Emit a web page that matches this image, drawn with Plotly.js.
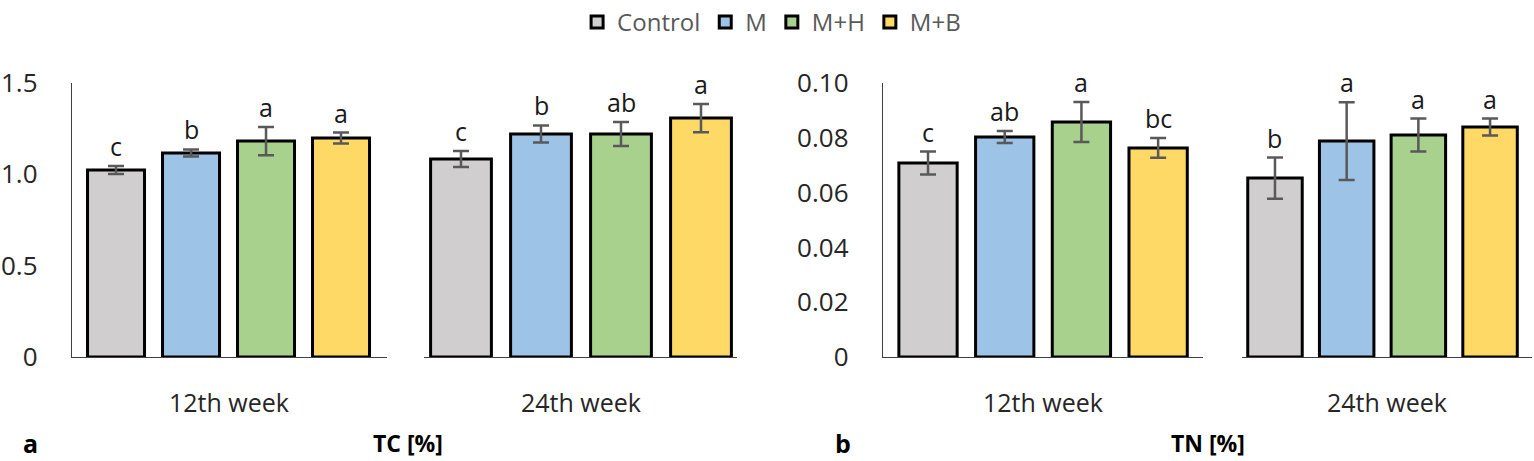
<!DOCTYPE html>
<html>
<head>
<meta charset="utf-8">
<script src="https://cdn.plot.ly/plotly-3.0.1.min.js"></script>
<style>html,body{margin:0;padding:0;background:#fff;}#chart{width:1534px;height:461px;}</style>
</head>
<body>
<div id="chart"></div>
<script>
// ---- data ----
const treatments = ['Control', 'M', 'M+H', 'M+B'];
const weeks = ['12th week', '24th week'];
const panelTitles = ['TC [%]', 'TN [%]'];
const panelLetters = ['a', 'b'];

const tc12 = [1.024, 1.117, 1.182, 1.199];
const tc12Err = [0.022, 0.019, 0.077, 0.030];
const tc12Letters = ['c', 'b', 'a', 'a'];

const tc24 = [1.084, 1.221, 1.221, 1.308];
const tc24Err = [0.044, 0.047, 0.066, 0.077];
const tc24Letters = ['c', 'b', 'ab', 'a'];

const tn12 = [0.0708, 0.0803, 0.0858, 0.0763];
const tn12Err = [0.0042, 0.0022, 0.0073, 0.0036];
const tn12Letters = ['c', 'ab', 'a', 'bc'];

const tn24 = [0.0653, 0.0788, 0.0810, 0.0839];
const tn24Err = [0.0075, 0.0142, 0.0060, 0.0031];
const tn24Letters = ['b', 'a', 'a', 'a'];

const tcTickVals = [0, 0.5, 1.0, 1.5];
const tcTickText = ['0', '0.5', '1.0', '1.5'];
const tnTickVals = [0, 0.02, 0.04, 0.06, 0.08, 0.10];
const tnTickText = ['0', '0.02', '0.04', '0.06', '0.08', '0.10'];

// ---- styles ----
const colors = ['#D0CECE', '#9DC3E6', '#A9D18E', '#FFD966'];
const FONT = 'Open Sans, Noto Sans, sans-serif';

const groups = [
  {vals: tc12, errs: tc12Err, letters: tc12Letters, week: weeks[0], xa: 'x',  ya: 'y'},
  {vals: tc24, errs: tc24Err, letters: tc24Letters, week: weeks[1], xa: 'x2', ya: 'y'},
  {vals: tn12, errs: tn12Err, letters: tn12Letters, week: weeks[0], xa: 'x3', ya: 'y2'},
  {vals: tn24, errs: tn24Err, letters: tn24Letters, week: weeks[1], xa: 'x4', ya: 'y2'}
];

const traces = [];
const annotations = [];
groups.forEach((g, gi) => {
  treatments.forEach((t, ti) => {
    traces.push({
      type: 'bar',
      name: t,
      x: [t],
      y: [g.vals[ti]],
      xaxis: g.xa,
      yaxis: g.ya,
      width: 0.76,
      legendgroup: t,
      showlegend: gi === 0,
      marker: {color: colors[ti], line: {color: '#000000', width: 3}},
      error_y: {type: 'data', array: [g.errs[ti]], visible: true, color: '#595959', thickness: 2.5, width: 8},
      hoverinfo: 'x+y'
    });
    annotations.push({
      x: t, y: g.vals[ti] + g.errs[ti], xref: g.xa, yref: g.ya,
      text: g.letters[ti], showarrow: false, yanchor: 'bottom', xanchor: 'center', yshift: 1,
      font: {family: FONT, size: 25, color: '#1a1a1a'}
    });
  });
  annotations.push({
    x: 0.5, y: 0, xref: g.xa + ' domain', yref: g.ya + ' domain',
    text: g.week, showarrow: false, yanchor: 'middle', xanchor: 'center', yshift: -45,
    font: {family: FONT, size: 25, color: '#262626'}
  });
});

// panel titles and letters
const bottomText = [
  {x: 408, text: '<b>' + panelTitles[0] + '</b>', size: 23},
  {x: 1208, text: '<b>' + panelTitles[1] + '</b>', size: 23},
  {x: 30, text: '<b>' + panelLetters[0] + '</b>', size: 25},
  {x: 843, text: '<b>' + panelLetters[1] + '</b>', size: 25}
];
bottomText.forEach(b => {
  annotations.push({x: b.x / 1534, y: -86 / 274, xref: 'paper', yref: 'paper', text: b.text, showarrow: false,
    xanchor: 'center', yanchor: 'middle', font: {family: FONT, size: b.size, color: '#000'}});
});

const xBase = {
  type: 'category', categoryorder: 'array', categoryarray: treatments,
  showticklabels: false, ticks: '', showgrid: false, zeroline: false,
  showline: true, linecolor: '#404040', linewidth: 1.3, fixedrange: true
};
const yBase = {
  showgrid: false, zeroline: false, ticks: '', showline: true, linecolor: '#404040', linewidth: 1.3,
  tickfont: {family: FONT, size: 26, color: '#262626'}, ticklabelstandoff: 28, domain: [0, 1]
};

const layout = {
  width: 1534, height: 461,
  margin: {l: 0, r: 0, t: 83, b: 104, autoexpand: false},
  paper_bgcolor: '#ffffff', plot_bgcolor: 'rgba(0,0,0,0)',
  barmode: 'overlay',
  showlegend: true,
  legend: {
    orientation: 'h', xref: 'container', yref: 'container',
    x: 0.503, xanchor: 'center', y: 1, yanchor: 'top',
    font: {family: FONT, size: 24, color: '#595959'}, itemwidth: 30, traceorder: 'normal'
  },
  xaxis:  Object.assign({}, xBase, {domain: [72/1534, 387/1534],   range: [-0.587, 3.613], anchor: 'y'}),
  xaxis2: Object.assign({}, xBase, {domain: [424/1534, 737/1534],  range: [-0.4625, 3.45], anchor: 'y'}),
  xaxis3: Object.assign({}, xBase, {domain: [883/1534, 1203/1534], range: [-0.587, 3.585], anchor: 'y2'}),
  xaxis4: Object.assign({}, xBase, {domain: [1242/1534, 1532/1534], range: [-0.46, 3.585], anchor: 'y2'}),
  yaxis:  Object.assign({}, yBase, {range: [0, 1.5], tickvals: tcTickVals, ticktext: tcTickText, anchor: 'x'}),
  yaxis2: Object.assign({}, yBase, {range: [0, 0.1], tickvals: tnTickVals, ticktext: tnTickText, anchor: 'x3'}),
  annotations: annotations,
  font: {family: FONT}
};

Plotly.newPlot('chart', traces, layout, {displayModeBar: false, staticPlot: true});
</script>
</body>
</html>
